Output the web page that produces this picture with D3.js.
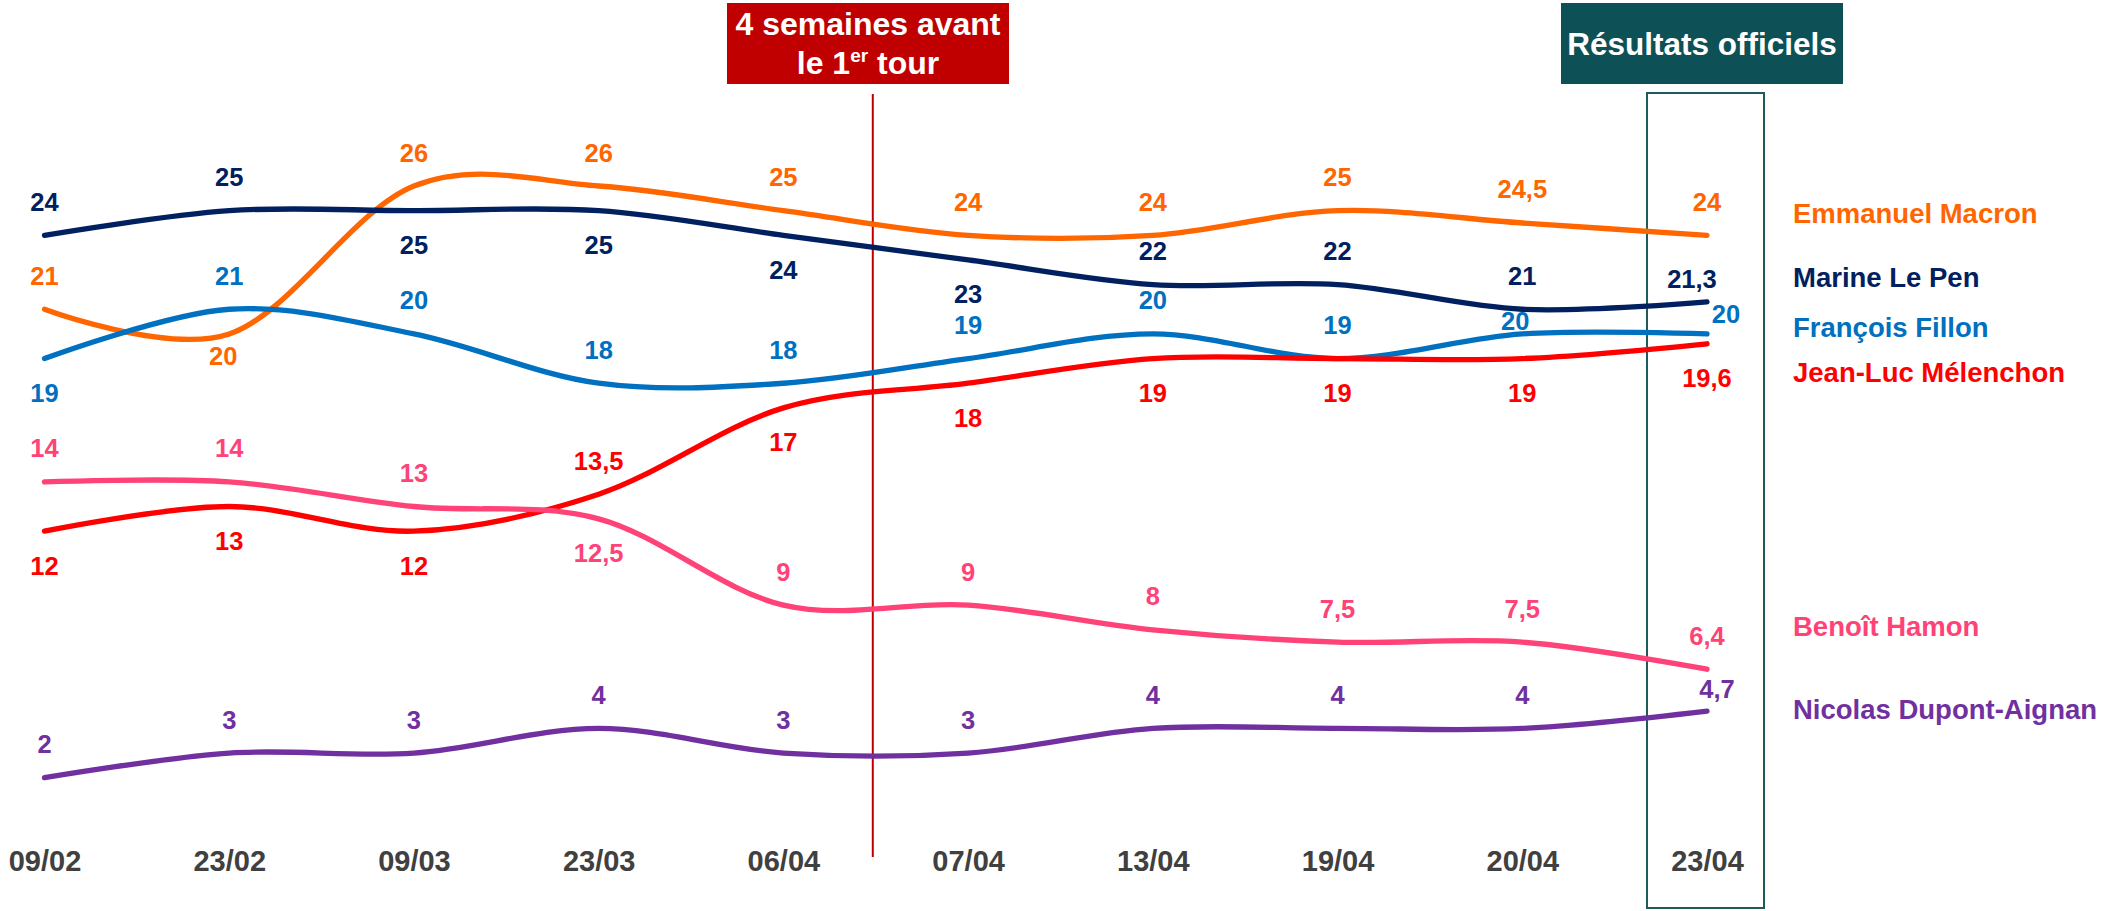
<!DOCTYPE html>
<meta charset="utf-8">
<style>
body { margin: 0; background: #fff; }
text { font-family: Arial, "Liberation Sans", sans-serif; font-weight: bold; }
.line { fill: none; stroke-width: 5.3px; stroke-linecap: round; }
</style>
<svg width="2106" height="911"></svg>
<script src="https://cdn.jsdelivr.net/npm/d3@7"></script>
<script>

var dates = ["09/02", "23/02", "09/03", "23/03", "06/04", "07/04", "13/04", "19/04", "20/04", "23/04"];

var candidates = ["Emmanuel Macron", "Marine Le Pen", "François Fillon", "Jean-Luc Mélenchon", "Benoît Hamon", "Nicolas Dupont-Aignan"];
var colors = ["#ff6600", "#002060", "#0070c0", "#ff0000", "#ff4277", "#7030a0"];

var macron     = [21, 20, 26, 26, 25, 24, 24, 25, 24.5, 24];
var lePen      = [24, 25, 25, 25, 24, 23, 22, 22, 21, 21.3];
var fillon     = [19, 21, 20, 18, 18, 19, 20, 19, 20, 20];
var melenchon  = [12, 13, 12, 13.5, 17, 18, 19, 19, 19, 19.6];
var hamon      = [14, 14, 13, 12.5, 9, 9, 8, 7.5, 7.5, 6.4];
var dupont     = [2, 3, 3, 4, 3, 3, 4, 4, 4, 4.7];

var series = [macron, lePen, fillon, melenchon, hamon, dupont];

// label above ("a") or below ("b") the curve
var sides = [
  "abaaaaaaaa",
  "aabbbbaaaa",
  "baaaaaaaaa",
  "bbbabbbbbb",
  "aaabaaaaaa",
  "aaaaaaaaaa"
];

// hand nudges for crowded labels: "series,index" -> [dx, dy from curve]
var nudges = {
  "0,1": [-6, 31],
  "1,9": [-15, -14],
  "2,8": [-7, -4],
  "2,9": [19, -11],
  "5,9": [10, -13]
};

var legendY = [223, 287, 337, 382, 636, 719];

var svg = d3.select("svg");

var x = d3.scalePoint().domain(dates).range([44.5, 1707]);
var y = d3.scaleLinear().domain([0, 26]).range([827, 186]);
var step = x.step();

var fmt = function(v) { return String(v).replace(".", ","); };

// "4 semaines avant" marker
var xMark = x(dates[4]) + step * 0.484;
svg.append("line")
    .attr("x1", xMark).attr("x2", xMark)
    .attr("y1", 94).attr("y2", 857)
    .attr("stroke", "#c00000")
    .attr("stroke-width", 2);

svg.append("rect")
    .attr("x", 727).attr("y", 3)
    .attr("width", 282).attr("height", 81)
    .attr("fill", "#c00000");

svg.append("text")
    .attr("x", 868).attr("y", 35)
    .attr("text-anchor", "middle")
    .attr("fill", "#fff")
    .style("font-size", "32px")
    .text("4 semaines avant");

var t2 = svg.append("text")
    .attr("x", 868).attr("y", 74)
    .attr("text-anchor", "middle")
    .attr("fill", "#fff")
    .style("font-size", "32px");
t2.append("tspan").text("le 1");
t2.append("tspan").attr("dy", -12).style("font-size", "19px").text("er");
t2.append("tspan").attr("dy", 12).text(" tour");

// official results frame
var xLast = x(dates[dates.length - 1]);
svg.append("rect")
    .attr("x", xLast - 60).attr("y", 93)
    .attr("width", 117).attr("height", 815)
    .attr("fill", "none")
    .attr("stroke", "#1f5b5b")
    .attr("stroke-width", 2);

svg.append("rect")
    .attr("x", 1561).attr("y", 3)
    .attr("width", 282).attr("height", 81)
    .attr("fill", "#0d5156");

svg.append("text")
    .attr("x", 1702).attr("y", 55)
    .attr("text-anchor", "middle")
    .attr("fill", "#fff")
    .style("font-size", "31.5px")
    .text("Résultats officiels");

// x axis
var axis = svg.append("g")
    .attr("transform", "translate(0,871)")
    .call(d3.axisBottom(x).tickSize(0).tickPadding(0));
axis.select(".domain").remove();
axis.selectAll("text")
    .attr("dy", 0)
    .attr("fill", "#404040")
    .style("font-size", "29px")
    .style("font-family", "Arial, 'Liberation Sans', sans-serif")
    .style("font-weight", "bold");

// curves
var line = d3.line()
    .x(function(d, i) { return x(dates[i]); })
    .y(function(d) { return y(d); })
    .curve(d3.curveCardinal.tension(0));

svg.selectAll(".line")
    .data(series)
  .enter().append("path")
    .attr("class", "line")
    .attr("stroke", function(d, i) { return colors[i]; })
    .attr("d", line);

// value labels
series.forEach(function(vals, s) {
  svg.append("g").selectAll("text")
      .data(vals)
    .enter().append("text")
      .attr("text-anchor", "middle")
      .attr("fill", colors[s])
      .style("font-size", "25.5px")
      .attr("x", function(d, i) {
        var n = nudges[s + "," + i];
        return x(dates[i]) + (n ? n[0] : 0);
      })
      .attr("y", function(d, i) {
        var n = nudges[s + "," + i];
        if (n) return y(d) + n[1];
        return y(d) + (sides[s][i] === "a" ? -24.5 : 43.5);
      })
      .text(fmt);
});

// legend
svg.append("g").selectAll("text")
    .data(candidates)
  .enter().append("text")
    .attr("x", 1793)
    .attr("y", function(d, i) { return legendY[i]; })
    .attr("fill", function(d, i) { return colors[i]; })
    .style("font-size", "27.5px")
    .text(function(d) { return d; });

</script>
